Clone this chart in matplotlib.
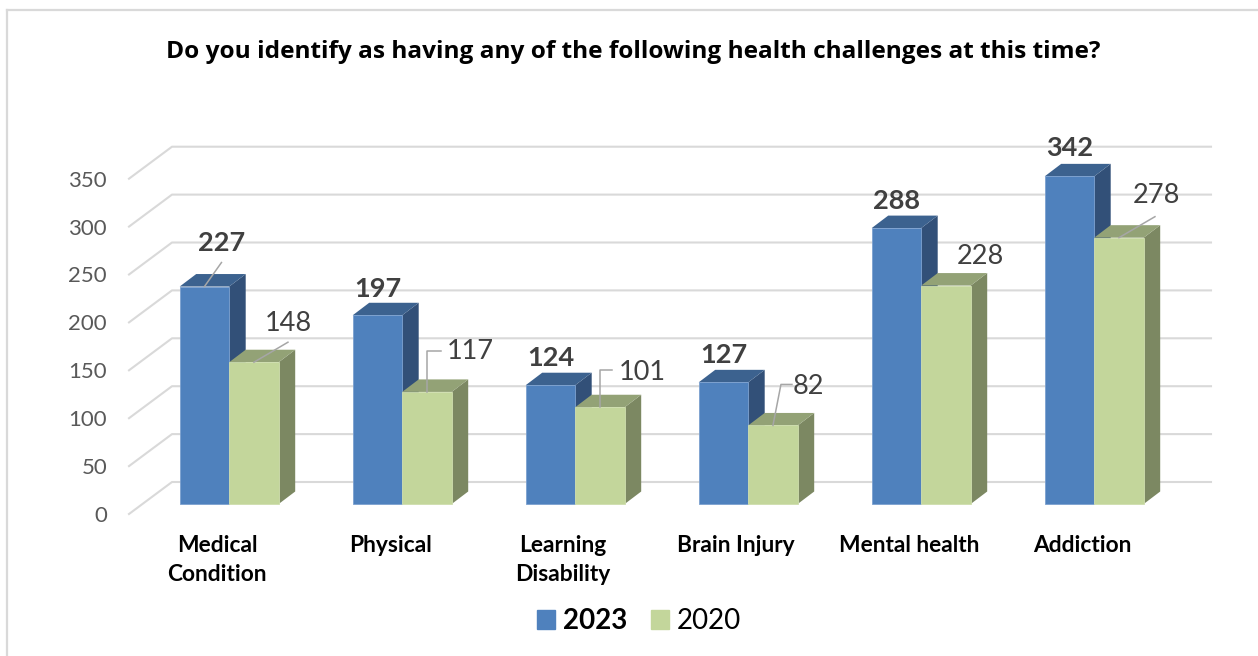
"""Health challenges 2023 vs 2020, pseudo-3D columns."""
import matplotlib

matplotlib.use("Agg")
import matplotlib.pyplot as plt
from matplotlib.lines import Line2D
from matplotlib.patches import Patch, Polygon
from matplotlib.transforms import ScaledTranslation

categories = ["Medical\nCondition", "Physical", "Learning\nDisability", "Brain Injury", "Mental health", "Addiction"]
values_2023 = [227, 197, 124, 127, 288, 342]
values_2020 = [148, 117, 101, 82, 228, 278]
y_ticks = [0, 50, 100, 150, 200, 250, 300, 350]

# label offsets from the top of each bar, in pixels
offsets_2023 = [(17, 44), (0, 26), (0, 27), (0, 27), (0, 27), (0, 28)]
offsets_2020 = [(34, 39), (43, 40), (42, 35), (35, 39), (34, 29), (37, 42.5)]
# leader lines, pixels from the top of the bar
leaders_2023 = {0: [(0, 0), (17, 24)]}
leaders_2020 = {
    0: [(0, 0), (34, 20)],
    1: [(0, 0), (0, 41), (14, 41)],
    2: [(0, 0), (0, 37), (12, 37)],
    3: [(0, 0), (8, 41), (19, 41)],
    5: [(0, 0), (36, 21)],
}

W, H = 1258, 656
PX_X = 173.0  # pixels per category
PX_Y = 0.958  # pixels per unit
BAR_W = 49.5 / PX_X
DX, DY = 16.5 / PX_X, 12.5 / PX_Y
CENTER0 = 229.2  # pixel centre of the first category
FONT = ["Lato", "DejaVu Sans"]

plt.rcParams["font.family"] = FONT

BLUE = ("#4f81bd", "#325078", "#3c628f")
GREEN = ("#c3d69b", "#7c8862", "#93a276")


def draw_bars(ax, xs, vals, colors, z):
    front, side, top = colors
    ax.bar(xs, vals, BAR_W, color=front, edgecolor="#7ba0cf" if front == BLUE[0] else "#cfdeae",
           linewidth=0.6, zorder=z + 0.2)
    for x, v in zip(xs, vals):
        r = x + BAR_W / 2
        l = x - BAR_W / 2
        ax.add_patch(Polygon([(r, 0), (r + DX, DY), (r + DX, v + DY), (r, v)], color=side, lw=0, zorder=z))
        ax.add_patch(Polygon([(l, v), (l + DX, v + DY), (r + DX, v + DY), (r, v)], color=top, lw=0, zorder=z))


def draw_labels(ax, xs, vals, offsets, leaders, weight, color):
    for i, (x, v, off) in enumerate(zip(xs, vals, offsets)):
        ax.annotate(str(v), xy=(x, v), xytext=off, textcoords="offset pixels", ha="center", va="center",
                    fontsize=19.5, fontweight=weight, color=color, zorder=10, annotation_clip=False)
        if i in leaders:
            pts = leaders[i]
            ax.plot([x + p[0] / PX_X for p in pts], [v + p[1] / PX_Y for p in pts],
                    color="#a6a6a6", lw=1.1, zorder=9, clip_on=False)


fig = plt.figure(figsize=(W / 100, H / 100), dpi=100)
ax = fig.add_axes([129 / W, (H - 514) / H, (1211 - 129) / W, (514 - 130) / H])
x0, x1 = (129 - CENTER0) / PX_X, (1211 - CENTER0) / PX_X
y0 = -10 / PX_Y
ax.set_xlim(x0, x1)
ax.set_ylim(y0, y0 + (514 - 130) / PX_Y)
for s in ax.spines.values():
    s.set_visible(False)

# back wall grid with the short diagonals on the left
for t in y_ticks:
    ax.plot([x0, x0 + 43 / PX_X, x1], [t + y0, t + 22 / PX_Y, t + 22 / PX_Y], color="#d9d9d9", lw=1.5, zorder=1,
            clip_on=False)

xs = list(range(len(categories)))
xs_2023 = [x - BAR_W / 2 for x in xs]
xs_2020 = [x + BAR_W / 2 for x in xs]
draw_bars(ax, xs_2023, values_2023, BLUE, 2)
draw_bars(ax, xs_2020, values_2020, GREEN, 3)
draw_labels(ax, xs_2023, values_2023, offsets_2023, leaders_2023, "bold", "#404040")
draw_labels(ax, xs_2020, values_2020, offsets_2020, leaders_2020, "normal", "#404040")

ax.set_yticks(y_ticks)
ax.set_xticks(xs)
ax.set_xticklabels(categories, fontweight="bold", fontsize=16.4, color="black", linespacing=1.48)
ax.tick_params(axis="y", length=0, pad=15.8, labelsize=16, labelcolor="#595959")
ax.tick_params(axis="x", length=0, pad=15)
# tick labels sit on the front edge of the floor, below the bar baseline
for lbl in ax.get_yticklabels():
    lbl.set_transform(lbl.get_transform() + ScaledTranslation(0, -10 / 100, fig.dpi_scale_trans))
for lbl in ax.get_xticklabels():
    lbl.set_transform(lbl.get_transform() + ScaledTranslation(-12 / 100, 0, fig.dpi_scale_trans))

fig.text(633 / W, 1 - 52 / H, "Do you identify as having any of the following health challenges at this time?",
         ha="center", va="center", fontsize=17.55, fontweight="bold", family="Open Sans", color="black")

handles = [Patch(color=BLUE[0]), Patch(color=GREEN[0])]
leg = fig.legend(handles, ["2023", "2020"], ncol=2, frameon=False, fontsize=20, loc="center",
                 bbox_to_anchor=(639 / W, 1 - 621 / H), handlelength=0.65, handleheight=0.65, handletextpad=0.29,
                 columnspacing=0.86, labelcolor="black")
leg.get_texts()[0].set_fontweight("bold")

fig.add_artist(Line2D([7 / W, 7 / W], [0, 1 - 10 / H], color="#d9d9d9", lw=1.6))
fig.add_artist(Line2D([7 / W, 1], [1 - 10 / H, 1 - 10 / H], color="#d9d9d9", lw=1.6))

fig.savefig("out.png", dpi=100)
plt.close(fig)
